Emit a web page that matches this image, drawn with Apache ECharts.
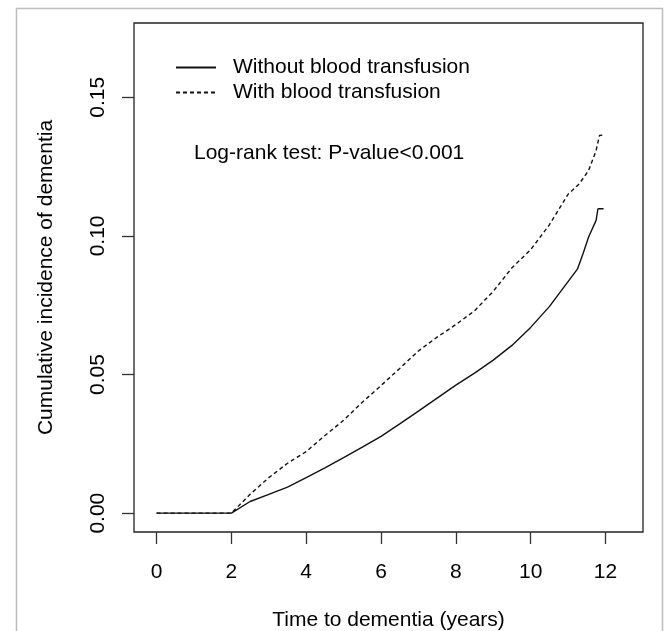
<!DOCTYPE html>
<html>
<head>
<meta charset="utf-8">
<script src="https://cdn.jsdelivr.net/npm/echarts@6/dist/echarts.min.js"></script>
<style>
  html, body { margin: 0; padding: 0; background: #fff; }
  #main { width: 667px; height: 631px; }
</style>
</head>
<body>
<div id="main"></div>
<script>
// 时间点（年）与累计发病率
var timeWithout = [0, 2, 2.5, 3, 3.5, 4, 4.5, 5, 5.5, 6, 6.5, 7, 7.5, 8, 8.5, 9, 9.5, 10, 10.5, 11, 11.25, 11.4, 11.55, 11.75, 11.8, 11.95];
var incWithout  = [0, 0, 0.0042, 0.0068, 0.0094, 0.0128, 0.0163, 0.0200, 0.0238, 0.0277, 0.0322, 0.0368, 0.0415, 0.0462, 0.0505, 0.0552, 0.0605, 0.0670, 0.0745, 0.0835, 0.0880, 0.0936, 0.0996, 0.1056, 0.1098, 0.1098];
var timeWith    = [0, 2, 2.5, 3, 3.5, 4, 4.5, 5, 5.5, 6, 6.5, 7, 7.5, 8, 8.5, 9, 9.5, 10, 10.5, 11, 11.3, 11.55, 11.75, 11.84, 11.97];
var incWith     = [0, 0, 0.0068, 0.0128, 0.0180, 0.0222, 0.0280, 0.0335, 0.0400, 0.0460, 0.0522, 0.0585, 0.0635, 0.0680, 0.0730, 0.0800, 0.0885, 0.0950, 0.1040, 0.1150, 0.1188, 0.1236, 0.1308, 0.1362, 0.1365];
// 坐标轴刻度
var xTicks = [0, 2, 4, 6, 8, 10, 12];
var yTicks = [0, 0.05, 0.10, 0.15];
var seriesNames = ['Without blood transfusion', 'With blood transfusion'];

function pairs(xs, ys) {
    var out = [];
    for (var i = 0; i < xs.length; i++) {
        out.push([xs[i], ys[i]]);
    }
    return out;
}

var myChart = echarts.init(document.getElementById('main'));
var font = '"Liberation Sans", Arial, sans-serif';

var option = {
    backgroundColor: '#fff',
    animation: false,
    textStyle: { fontFamily: font, color: '#000' },
    grid: {
        left: 134, right: 24, top: 23, bottom: 99,
        show: true, borderColor: '#222', borderWidth: 1.3,
        containLabel: false,
        outerBoundsMode: 'none'
    },
    legend: {
        orient: 'vertical',
        left: 175, top: 57,
        itemWidth: 40, itemHeight: 10, itemGap: 4,
        padding: 0,
        itemStyle: { opacity: 0 },
        textStyle: { fontSize: 21, color: '#000', fontFamily: font, padding: [0, 0, 0, 12] },
        data: seriesNames
    },
    xAxis: {
        type: 'value',
        min: -0.604, max: 13.004,
        name: 'Time to dementia (years)',
        nameLocation: 'middle',
        nameGap: 78,
        nameMoveOverlap: false,
        nameTextStyle: { fontSize: 21, color: '#000', fontFamily: font },
        splitLine: { show: false },
        axisLine: { show: false, onZero: false },
        axisTick: {
            show: true, length: 12, inside: false,
            customValues: xTicks,
            lineStyle: { color: '#333', width: 1.3 }
        },
        axisLabel: {
            customValues: xTicks,
            margin: 30,
            fontSize: 21, color: '#000', fontFamily: font
        }
    },
    yAxis: {
        type: 'value',
        min: -0.0068, max: 0.1768,
        name: 'Cumulative incidence of dementia',
        nameLocation: 'middle',
        nameGap: 77,
        nameRotate: 90,
        nameMoveOverlap: false,
        nameTextStyle: { fontSize: 21, color: '#000', fontFamily: font },
        splitLine: { show: false },
        axisLine: { show: false, onZero: false },
        axisTick: {
            show: true, length: 12, inside: false,
            customValues: yTicks,
            lineStyle: { color: '#333', width: 1.3 }
        },
        axisLabel: {
            customValues: yTicks,
            rotate: 90,
            margin: 25,
            fontSize: 21, color: '#000', fontFamily: font,
            formatter: function (v) { return v.toFixed(2); }
        }
    },
    graphic: [
        {
            type: 'rect',
            shape: { x: 16.5, y: 8.5, width: 646, height: 640 },
            style: { fill: 'none', stroke: '#bdbdbd', lineWidth: 1.5 },
            silent: true
        },
        {
            type: 'text',
            left: 194, top: 143,
            style: { text: 'Log-rank test: P-value<0.001', fontSize: 21, fill: '#000', font: '21px ' + font }
        }
    ],
    series: [
        {
            name: seriesNames[0],
            type: 'line',
            symbol: 'none',
            data: pairs(timeWithout, incWithout),
            lineStyle: { color: '#111', width: 1.4, type: 'solid' },
            itemStyle: { color: '#111' }
        },
        {
            name: seriesNames[1],
            type: 'line',
            symbol: 'none',
            data: pairs(timeWith, incWith),
            lineStyle: { color: '#111', width: 1.4, type: [4, 3] },
            itemStyle: { color: '#111' }
        }
    ]
};
myChart.setOption(option);
</script>
</body>
</html>
